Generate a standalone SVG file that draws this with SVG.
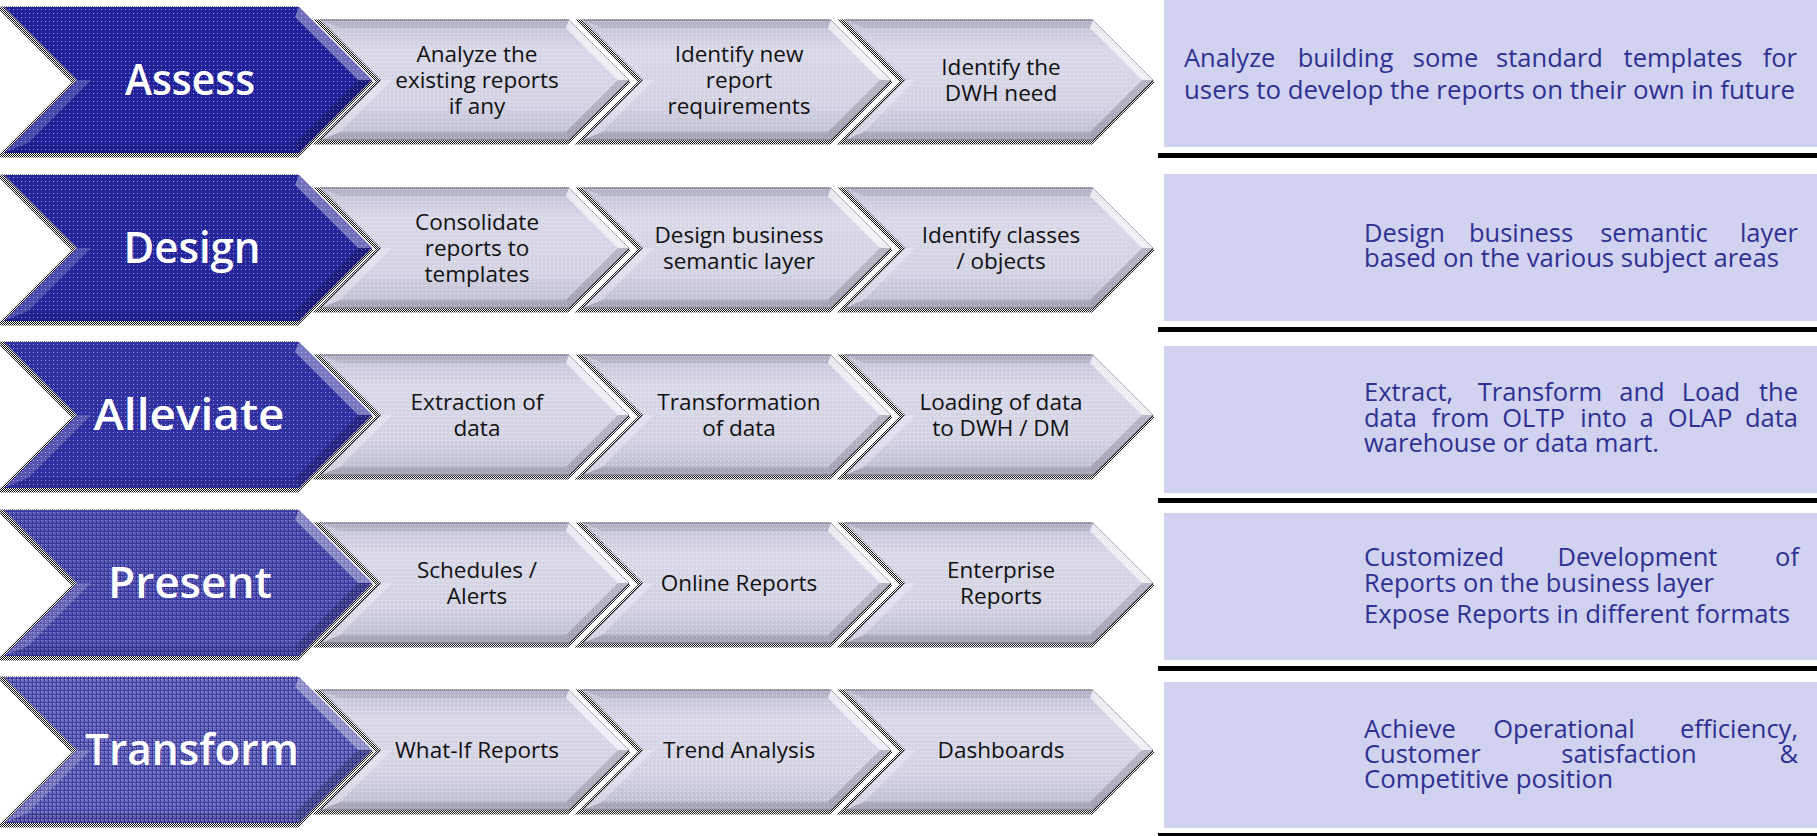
<svg xmlns="http://www.w3.org/2000/svg" xmlns:xlink="http://www.w3.org/1999/xlink" width="1817" height="836" viewBox="0 0 1817 836">
<style>
.big{font-family:"Open Sans","Liberation Sans",sans-serif;font-size:43px;font-weight:600;fill:#ffffff;text-anchor:middle}
.sm{font-family:"Open Sans","Liberation Sans",sans-serif;font-size:22.5px;fill:#111111;text-anchor:middle}
.pt{font-family:"Open Sans","Liberation Sans",sans-serif;font-size:25.5px;fill:#2E3192}
.mid{text-anchor:middle}
.end{text-anchor:end}
.panel{fill:#D1D2EF}
.sep{fill:#000000}
.shadow{fill:none;stroke:url(#dither);stroke-width:5}
.hl{fill:#ffffff;opacity:0.35}
.hl2{fill:#ffffff;opacity:0.18}
.dk{fill:#000000;opacity:0.18}
.dk2{fill:#000000;opacity:0.08}
.smfill{fill:url(#smGrad);stroke:#7E7E92;stroke-width:1}
</style>
<defs>
<pattern id="dither" width="2" height="2" patternUnits="userSpaceOnUse"><rect width="1" height="1" fill="#111"/><rect x="1" y="1" width="1" height="1" fill="#111"/></pattern>
<pattern id="wdots" width="4" height="4" patternUnits="userSpaceOnUse"><rect x="1" y="1" width="1" height="1" fill="#ffffff"/></pattern>
<pattern id="grid" width="4" height="4" patternUnits="userSpaceOnUse"><rect width="4" height="1" fill="#1C1C84"/><rect width="1" height="4" fill="#1C1C84"/></pattern>
<linearGradient id="smGrad" x1="0" y1="0" x2="0" y2="1">
<stop offset="0" stop-color="#C2C2D6"/>
<stop offset="0.25" stop-color="#D8D8E8"/>
<stop offset="0.7" stop-color="#D3D3E4"/>
<stop offset="1" stop-color="#BBBBCF"/>
</linearGradient>
<polygon id="bigO" points="4,-73 299,-73 372,0 299,73 4,73 77,0"/>
<polygon id="bTR" points="299,-73 372,0 358,0 295,-63"/>
<polygon id="bBR" points="372,0 299,73 295,63 358,0"/>
<polygon id="bLL" points="77,0 4,73 28,63 91,0"/>
<polygon id="bUL" points="4,-73 77,0 91,0 28,-63"/>
<polygon id="bT" points="4,-73 299,-73 295,-63 28,-63"/>
<polygon id="bB" points="4,73 299,73 295,63 28,63"/>
<polygon id="smO" points="0,-60 248,-60 308,0 248,60 0,60 60,0"/>
<polygon id="sTR" points="248,-60 308,0 297,0 245,-52"/>
<polygon id="sBR" points="308,0 248,60 245,52 297,0"/>
<polygon id="sLL" points="60,0 0,60 19,52 71,0"/>
<polygon id="sUL" points="0,-60 60,0 71,0 19,-52"/>
<polygon id="sT" points="0,-60 248,-60 245,-52 19,-52"/>
<polygon id="sB" points="0,60 248,60 245,52 19,52"/>
<g id="bigBevel">
<use href="#bTR" class="hl"/>
<use href="#bLL" class="hl2"/>
<use href="#bBR" class="dk"/>
<use href="#bB" class="dk2"/>
</g>
<g id="smBody">
<use href="#smO" class="shadow" transform="translate(-2,2)"/>
<use href="#smO" class="smfill"/>
<use href="#smO" fill="url(#wdots)" opacity="0.6"/>
<use href="#sTR" fill="#ffffff" opacity="0.6"/>
<use href="#sLL" fill="#ffffff" opacity="0.3"/>
<use href="#sBR" fill="#000000" opacity="0.15"/>
<use href="#sT" fill="#000000" opacity="0.08"/>
<use href="#sB" fill="#000000" opacity="0.12"/>
</g>
</defs>
<rect width="1817" height="836" fill="#ffffff"/>

<!-- Row 1 -->
<g id="node-assess" transform="translate(0,80)">
<use href="#bigO" class="shadow" transform="translate(-2,2)"/>
<use href="#bigO" fill="#21219A"/>
<use href="#bigO" fill="url(#wdots)" opacity="0.55"/>
<use href="#bigBevel"/>
<text class="big" x="190" y="15" textLength="130" lengthAdjust="spacingAndGlyphs">Assess</text>
</g>
<g id="node-analyze-existing" transform="translate(321,80)">
<use href="#smBody"/>
<text class="sm" x="156"><tspan x="156" y="-18">Analyze the</tspan><tspan x="156" y="8">existing reports</tspan><tspan x="156" y="34">if any</tspan></text>
</g>
<g id="node-identify-new" transform="translate(583,80)">
<use href="#smBody"/>
<text class="sm" x="156"><tspan x="156" y="-18">Identify new</tspan><tspan x="156" y="8">report</tspan><tspan x="156" y="34">requirements</tspan></text>
</g>
<g id="node-identify-dwh" transform="translate(845,80)">
<use href="#smBody"/>
<text class="sm" x="156"><tspan x="156" y="-5">Identify the</tspan><tspan x="156" y="21">DWH need</tspan></text>
</g>

<!-- Row 2 -->
<g id="node-design" transform="translate(0,248)">
<use href="#bigO" class="shadow" transform="translate(-2,2)"/>
<use href="#bigO" fill="#25259C"/>
<use href="#bigO" fill="url(#wdots)" opacity="0.55"/>
<use href="#bigBevel"/>
<text class="big" x="192" y="15" textLength="137" lengthAdjust="spacingAndGlyphs">Design</text>
</g>
<g id="node-consolidate" transform="translate(321,248)">
<use href="#smBody"/>
<text class="sm" x="156"><tspan x="156" y="-18">Consolidate</tspan><tspan x="156" y="8">reports to</tspan><tspan x="156" y="34">templates</tspan></text>
</g>
<g id="node-design-business" transform="translate(583,248)">
<use href="#smBody"/>
<text class="sm" x="156"><tspan x="156" y="-5">Design business</tspan><tspan x="156" y="21">semantic layer</tspan></text>
</g>
<g id="node-identify-classes" transform="translate(845,248)">
<use href="#smBody"/>
<text class="sm" x="156"><tspan x="156" y="-5">Identify classes</tspan><tspan x="156" y="21">/ objects</tspan></text>
</g>

<!-- Row 3 -->
<g id="node-alleviate" transform="translate(0,415)">
<use href="#bigO" class="shadow" transform="translate(-2,2)"/>
<use href="#bigO" fill="#3131A2"/>
<use href="#bigO" fill="url(#wdots)" opacity="0.55"/>
<use href="#bigBevel"/>
<text class="big" x="189" y="15" textLength="191" lengthAdjust="spacingAndGlyphs">Alleviate</text>
</g>
<g id="node-extraction" transform="translate(321,415)">
<use href="#smBody"/>
<text class="sm" x="156"><tspan x="156" y="-5">Extraction of</tspan><tspan x="156" y="21">data</tspan></text>
</g>
<g id="node-transformation" transform="translate(583,415)">
<use href="#smBody"/>
<text class="sm" x="156"><tspan x="156" y="-5">Transformation</tspan><tspan x="156" y="21">of data</tspan></text>
</g>
<g id="node-loading" transform="translate(845,415)">
<use href="#smBody"/>
<text class="sm" x="156"><tspan x="156" y="-5">Loading of data</tspan><tspan x="156" y="21">to DWH  / DM</tspan></text>
</g>

<!-- Row 4 -->
<g id="node-present" transform="translate(0,583)">
<use href="#bigO" class="shadow" transform="translate(-2,2)"/>
<use href="#bigO" fill="#5656B4"/>
<use href="#bigO" fill="url(#grid)" opacity="0.55"/>
<use href="#bigO" fill="url(#wdots)" opacity="0.45"/>
<use href="#bigBevel"/>
<text class="big" x="190" y="15" textLength="164" lengthAdjust="spacingAndGlyphs">Present</text>
</g>
<g id="node-schedules" transform="translate(321,583)">
<use href="#smBody"/>
<text class="sm" x="156"><tspan x="156" y="-5">Schedules /</tspan><tspan x="156" y="21">Alerts</tspan></text>
</g>
<g id="node-online-reports" transform="translate(583,583)">
<use href="#smBody"/>
<text class="sm" x="156" y="8">Online Reports</text>
</g>
<g id="node-enterprise-reports" transform="translate(845,583)">
<use href="#smBody"/>
<text class="sm" x="156"><tspan x="156" y="-5">Enterprise</tspan><tspan x="156" y="21">Reports</tspan></text>
</g>

<!-- Row 5 -->
<g id="node-transform" transform="translate(0,750)">
<use href="#bigO" class="shadow" transform="translate(-2,2)"/>
<use href="#bigO" fill="#6A6ABE"/>
<use href="#bigO" fill="url(#grid)" opacity="0.6"/>
<use href="#bigO" fill="url(#wdots)" opacity="0.45"/>
<use href="#bigBevel"/>
<text class="big" x="192" y="15" textLength="214" lengthAdjust="spacingAndGlyphs">Transform</text>
</g>
<g id="node-what-if" transform="translate(321,750)">
<use href="#smBody"/>
<text class="sm" x="156" y="8">What-If Reports</text>
</g>
<g id="node-trend" transform="translate(583,750)">
<use href="#smBody"/>
<text class="sm" x="156" y="8">Trend Analysis</text>
</g>
<g id="node-dashboards" transform="translate(845,750)">
<use href="#smBody"/>
<text class="sm" x="156" y="8">Dashboards</text>
</g>

<g id="connectors"></g>

<!-- Right description panels -->
<g id="panel-1">
<rect class="panel" x="1164" y="0" width="653" height="147"/>
<rect class="sep" x="1158" y="153" width="659" height="5"/>
<text class="pt" y="67"><tspan x="1184">Analyze</tspan><tspan class="mid" x="1345.5">building</tspan><tspan class="mid" x="1445.5">some</tspan><tspan class="mid" x="1549.5">standard</tspan><tspan class="mid" x="1683">templates</tspan><tspan class="end" x="1797">for</tspan></text>
<text class="pt" x="1184" y="99" textLength="611" lengthAdjust="spacingAndGlyphs">users to develop the reports on their own in future</text>
</g>
<g id="panel-2">
<rect class="panel" x="1164" y="174" width="653" height="147"/>
<rect class="sep" x="1158" y="327" width="659" height="5"/>
<text class="pt" y="242"><tspan x="1364">Design</tspan><tspan class="mid" x="1521">business</tspan><tspan class="mid" x="1654">semantic</tspan><tspan class="end" x="1798">layer</tspan></text>
<text class="pt" x="1364" y="267" textLength="415" lengthAdjust="spacingAndGlyphs">based on the various subject areas</text>
</g>
<g id="panel-3">
<rect class="panel" x="1164" y="346" width="653" height="147"/>
<rect class="sep" x="1158" y="498" width="659" height="5"/>
<text class="pt" y="401"><tspan x="1364">Extract,</tspan><tspan class="mid" x="1540">Transform</tspan><tspan class="mid" x="1642">and</tspan><tspan class="mid" x="1711">Load</tspan><tspan class="end" x="1798">the</tspan></text>
<text class="pt" y="427"><tspan x="1364">data</tspan><tspan class="mid" x="1460.5">from</tspan><tspan class="mid" x="1533.5">OLTP</tspan><tspan class="mid" x="1603.5">into</tspan><tspan class="mid" x="1646.5">a</tspan><tspan class="mid" x="1700">OLAP</tspan><tspan class="end" x="1798">data</tspan></text>
<text class="pt" x="1364" y="452" textLength="295" lengthAdjust="spacingAndGlyphs">warehouse or data mart.</text>
</g>
<g id="panel-4">
<rect class="panel" x="1164" y="513" width="653" height="147"/>
<rect class="sep" x="1158" y="666" width="659" height="5"/>
<text class="pt" y="566"><tspan x="1364">Customized</tspan><tspan class="mid" x="1637.5">Development</tspan><tspan class="end" x="1799">of</tspan></text>
<text class="pt" x="1364" y="592" textLength="350" lengthAdjust="spacingAndGlyphs">Reports on the business layer</text>
<text class="pt" x="1364" y="623" textLength="426" lengthAdjust="spacingAndGlyphs">Expose Reports in different formats</text>
</g>
<g id="panel-5">
<rect class="panel" x="1164" y="682" width="653" height="146"/>
<rect class="sep" x="1158" y="833" width="659" height="3"/>
<text class="pt" y="738"><tspan x="1364">Achieve</tspan><tspan class="mid" x="1564">Operational</tspan><tspan class="end" x="1798">efficiency,</tspan></text>
<text class="pt" y="763"><tspan x="1364">Customer</tspan><tspan class="mid" x="1629">satisfaction</tspan><tspan class="end" x="1798">&amp;</tspan></text>
<text class="pt" x="1364" y="788" textLength="249" lengthAdjust="spacingAndGlyphs">Competitive position</text>
</g>
</svg>
